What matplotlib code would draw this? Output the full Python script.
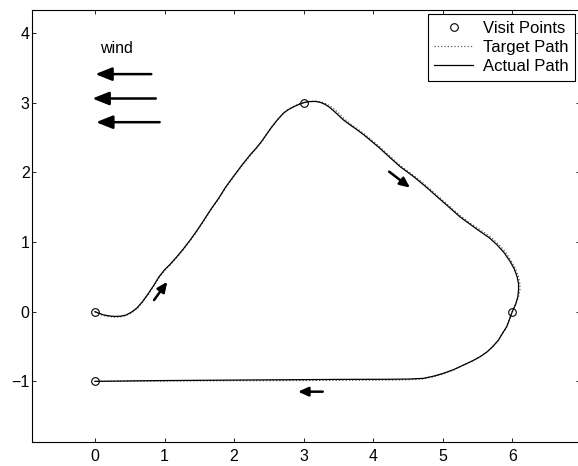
import matplotlib
matplotlib.use('Agg')
import matplotlib.pyplot as plt

plt.rcParams['font.family'] = ['Liberation Sans', 'DejaVu Sans']

# visit points
visit_x = [0, 3, 6, 0]
visit_y = [0, 3, 0, -1]

# actual path
actual_x = [0, 0.05, 0.12, 0.2, 0.28, 0.36, 0.44, 0.52, 0.6, 0.68, 0.76, 0.84,
            0.92, 1.0, 1.08, 1.17, 1.27, 1.37, 1.47, 1.57, 1.66, 1.78, 1.88,
            1.99, 2.11, 2.23, 2.32, 2.40, 2.47, 2.545, 2.62, 2.71, 2.78, 2.855,
            2.93, 3.0, 3.08, 3.17, 3.24, 3.31, 3.37, 3.43, 3.5, 3.575, 3.67,
            3.77, 3.87, 3.96, 4.08, 4.20, 4.30, 4.39, 4.58, 4.75, 4.92, 5.08,
            5.25, 5.40, 5.54, 5.67, 5.78, 5.88, 5.97, 6.03, 6.07, 6.09, 6.09,
            6.08, 6.05, 6.0, 5.96, 5.92, 5.86, 5.80, 5.72, 5.64, 5.54, 5.42,
            5.30, 5.16, 5.01, 4.87, 4.72, 4.5, 4.2, 3.5, 3.0, 2.23, 1.5, 0.8, 0]
actual_y = [0, -0.02, -0.045, -0.06, -0.068, -0.066, -0.05, -0.01, 0.05, 0.14,
            0.25, 0.37, 0.5, 0.6, 0.68, 0.78, 0.9, 1.03, 1.17, 1.32, 1.46,
            1.63, 1.79, 1.94, 2.1, 2.25, 2.35, 2.45, 2.55, 2.655, 2.75, 2.85,
            2.9, 2.94, 2.975, 3.0, 3.015, 3.018, 3.005, 2.975, 2.935, 2.885,
            2.82, 2.75, 2.68, 2.61, 2.535, 2.46, 2.36, 2.25, 2.16, 2.08, 1.94,
            1.8, 1.65, 1.51, 1.36, 1.25, 1.15, 1.06, 0.96, 0.85, 0.72, 0.61,
            0.5, 0.4, 0.31, 0.215, 0.11, 0.0, -0.11, -0.215, -0.31, -0.41,
            -0.5, -0.575, -0.645, -0.71, -0.765, -0.83, -0.885, -0.925, -0.957,
            -0.967, -0.97, -0.972, -0.975, -0.98, -0.985, -0.99, -1.0]

# target path (almost on top of the actual one)
target_x = [0, 0.05, 0.12, 0.2, 0.28, 0.36, 0.44, 0.52, 0.6, 0.68, 0.76, 0.84,
            0.92, 1.0, 1.08, 1.17, 1.27, 1.37, 1.47, 1.57, 1.66, 1.78, 1.88,
            1.99, 2.11, 2.23, 2.32, 2.40, 2.47, 2.545, 2.62, 2.71, 2.78, 2.855,
            2.93, 3.0, 3.08, 3.17, 3.25, 3.32, 3.39, 3.45, 3.52, 3.59, 3.68,
            3.78, 3.88, 3.97, 4.09, 4.21, 4.31, 4.40, 4.59, 4.76, 4.93, 5.09,
            5.26, 5.41, 5.56, 5.69, 5.80, 5.90, 5.99, 6.05, 6.09, 6.11, 6.11,
            6.09, 6.05, 6.0, 5.96, 5.92, 5.86, 5.80, 5.72, 5.64, 5.54, 5.42,
            5.30, 5.16, 5.01, 4.87, 4.72, 4.5, 4.2, 3.5, 3.0, 2.23, 1.5, 0.8, 0]
target_y = [0, -0.03, -0.055, -0.07, -0.078, -0.075, -0.058, -0.02, 0.04, 0.13,
            0.24, 0.36, 0.49, 0.59, 0.67, 0.77, 0.89, 1.02, 1.16, 1.31, 1.45,
            1.62, 1.78, 1.93, 2.09, 2.24, 2.34, 2.44, 2.55, 2.655, 2.75, 2.85,
            2.905, 2.945, 2.98, 3.0, 3.018, 3.022, 3.01, 2.985, 2.945, 2.9,
            2.835, 2.765, 2.69, 2.62, 2.545, 2.47, 2.37, 2.26, 2.17, 2.09, 1.95,
            1.81, 1.66, 1.52, 1.37, 1.26, 1.16, 1.07, 0.97, 0.86, 0.72, 0.61,
            0.5, 0.4, 0.31, 0.215, 0.11, 0.0, -0.11, -0.215, -0.31, -0.41,
            -0.5, -0.575, -0.645, -0.71, -0.765, -0.835, -0.89, -0.935, -0.965,
            -0.978, -0.982, -0.985, -0.988, -0.99, -0.993, -0.997, -1.0]

# wind arrows: tail x, head x, y
wind_tail = [0.81, 0.875, 0.93]
wind_head = [0.005, -0.037, 0.016]
wind_y = [3.41, 3.06, 2.72]

# direction arrows along the path: (x0, y0, x1, y1)
dir_arrows = [(0.85, 0.167, 1.04, 0.43),
              (4.23, 2.01, 4.53, 1.78),
              (3.275, -1.148, 2.92, -1.148)]

fig = plt.figure(figsize=(5.78, 4.66), dpi=100)
ax = fig.add_axes([0.056, 0.0508, 0.947, 0.9277])

ax.plot(visit_x, visit_y, 'o', mfc='none', mec='k', ms=5.5, mew=0.8,
        label='Visit Points')
ax.plot(target_x, target_y, ':', color='0.35', lw=0.9, label='Target Path')
ax.plot(actual_x, actual_y, '-', color='k', lw=0.9, label='Actual Path')

for xt, xh, yy in zip(wind_tail, wind_head, wind_y):
    ax.annotate('', xy=(xh, yy), xytext=(xt, yy),
                arrowprops=dict(arrowstyle='-|>,head_length=1.0,head_width=0.4',
                                mutation_scale=10, color='k', lw=1.8,
                                shrinkA=0, shrinkB=0))

for x0, y0, x1, y1 in dir_arrows:
    ax.annotate('', xy=(x1, y1), xytext=(x0, y0),
                arrowprops=dict(arrowstyle='-|>,head_length=1.0,head_width=0.45',
                                mutation_scale=6, color='k', lw=1.8,
                                shrinkA=0, shrinkB=0))

ax.text(0.08, 3.78, 'wind', fontsize=11.5, ha='left', va='center')

ax.set_xlim(-0.9, 6.97)
ax.set_ylim(-1.875, 4.33)
ax.set_xticks(range(0, 7))
ax.set_yticks(range(-1, 5))
ax.tick_params(direction='in', top=True, right=True, length=3, width=0.6,
               labelsize=11.5)
ax.tick_params(axis='x', pad=4.5)
ax.tick_params(axis='y', pad=2)
for s in ax.spines.values():
    s.set_linewidth(0.8)

# legend box sits inside the top right corner
leg = ax.legend(loc='upper right', bbox_to_anchor=(575 / 578, 1 - 14 / 466),
                bbox_transform=fig.transFigure, borderaxespad=0,
                fancybox=False, framealpha=1, edgecolor='k', fontsize=12,
                handlelength=2.3, handletextpad=0.6, labelspacing=0.25,
                borderpad=0.4)
leg.get_frame().set_linewidth(0.8)

fig.savefig('out.png', dpi=100)
